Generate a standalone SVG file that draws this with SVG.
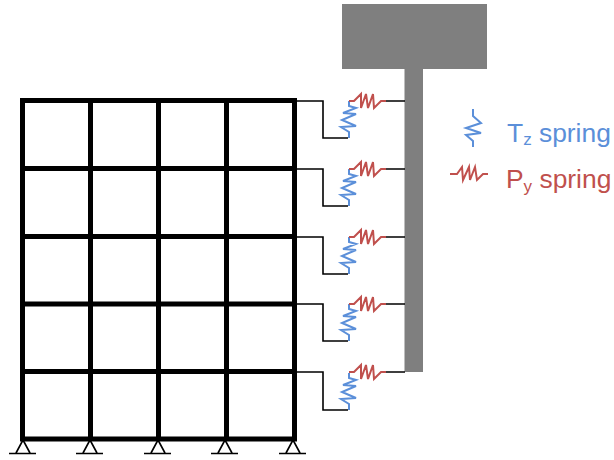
<svg xmlns="http://www.w3.org/2000/svg" width="614" height="460" viewBox="0 0 614 460">
<style>
.frame{fill:none;stroke:#000;stroke-width:5}
.wire{fill:none;stroke:#000;stroke-width:1.6}
.tz{fill:none;stroke:#5b8fd9;stroke-width:2}
.py{fill:none;stroke:#c0504d;stroke-width:2}
.wall{fill:#7f7f7f}
.sup{fill:none;stroke:#000;stroke-width:1.6}
text{font-family:"Liberation Sans",Arial,sans-serif;font-size:26.4px}
</style>
<defs>
<path id="tzs" class="tz" d="M0 37V31L-8 26 7 25-7 19 7 13-6 12 7 7 0 5V0"/>
<path id="tzl" class="tz" d="M0 0V7L8 14-7 19 8 24-7 26 0 32V38"/>
<path id="pys" class="py" d="M0 0H5L12-7 12 7 17-7 19 7 24-7 25 7 32 0H37"/>
<path id="pyl" class="py" d="M0 0H7L12-7 13 6 19-7 20 6 25-7 27 6 33 0H38"/>
<path id="sp" class="sup" d="M0 0L-7 13M0 0L7 13M-14 13.500H13"/>
<g id="link"><path class="wire" d="M295 0H323V37H348M386 0H405"/><use href="#tzs" x="349"/><use href="#pys" x="349"/></g>
</defs>
<g id="frame">
<path class="frame" d="M20 100.500H297M20 168.500H297M20 236.500H297M20 304H297M20 371.500H297M20 439H297M22.500 98V441.500M90.500 98V441.500M158.500 98V441.500M226.500 98V441.500M294.500 98V441.500"/>
</g>
<g id="wall"><rect class="wall" x="342" y="4" width="145" height="65"/><rect class="wall" x="404.500" y="68" width="18.500" height="304"/></g>
<g id="supports"><use href="#sp" x="23" y="440"/><use href="#sp" x="90" y="440"/><use href="#sp" x="158" y="440"/><use href="#sp" x="225" y="440"/><use href="#sp" x="293" y="440"/></g>
<g id="connectors">
<use href="#link" y="101"/><use href="#link" y="169"/><use href="#link" y="237"/><use href="#link" y="304"/>
<path class="wire" d="M295 372H323V410H348M386 372H405"/><use href="#tzs" x="349" y="373"/><use href="#pys" x="349" y="372"/>
</g>
<g id="legend-tz"><use href="#tzl" x="473" y="109"/><text x="507" y="142" fill="#5b8fd9">T<tspan font-size="17" dy="3">z</tspan><tspan dy="-3"> spring</tspan></text></g>
<g id="legend-py"><use href="#pyl" x="450" y="174"/><text x="506" y="188" fill="#c0504d">P<tspan font-size="17" dy="4">y</tspan><tspan dy="-4"> spring</tspan></text></g>
</svg>
